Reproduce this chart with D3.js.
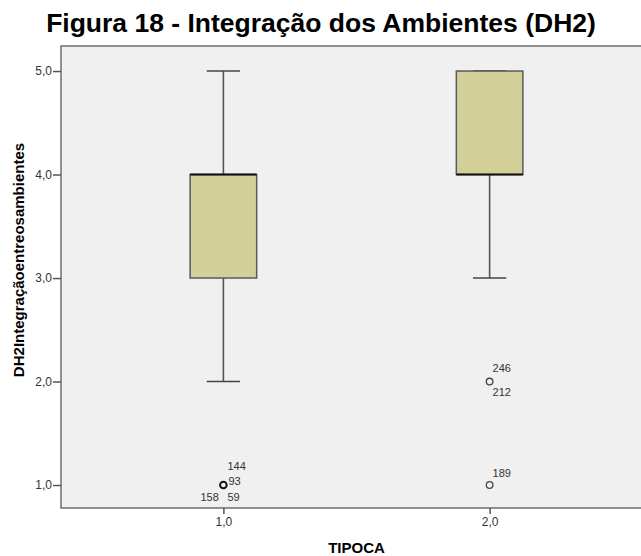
<!DOCTYPE html>
<html>
<head>
<meta charset="utf-8">
<script src="https://cdn.jsdelivr.net/npm/d3@7"></script>
<style>
  body { margin: 0; background: #fff; }
  svg { display: block; font-family: "Liberation Sans", Arial, sans-serif; }
</style>
</head>
<body>
<svg id="chart" width="641" height="556"></svg>
<script>
const groups = [1, 2];
const whiskerLow = [2, 3];
const q1 = [3, 4];
const median = [4, 4];
const q3 = [4, 5];
const whiskerHigh = [5, 5];
// outliers: group, value, case labels
const outliers = [
  { group: 1, value: 1, ids: ["144", "93", "158", "59"] },
  { group: 2, value: 2, ids: ["246", "212"] },
  { group: 2, value: 1, ids: ["189"] }
];
const yTicks = [1, 2, 3, 4, 5];
const xTicks = [1, 2];

const width = 641, height = 556;
const plot = { left: 61, top: 46, right: 652, bottom: 508 };

const svg = d3.select("#chart");
const fmt = d => d3.format(".1f")(d).replace(".", ",");

const x = d3.scaleLinear().domain([0.39, 2.61]).range([plot.left, plot.right]);
const y = d3.scaleLinear().domain([0.778, 5.242]).range([plot.bottom, plot.top]);
const boxW = x(1.25) - x(1);

svg.append("text")
  .attr("x", 321).attr("y", 32)
  .attr("text-anchor", "middle")
  .style("font-size", "26.5px")
  .style("font-weight", "bold")
  .style("fill", "#000")
  .text("Figura 18 - Integração dos Ambientes (DH2)");

svg.append("rect")
  .attr("x", plot.left).attr("y", plot.top)
  .attr("width", plot.right - plot.left).attr("height", plot.bottom - plot.top)
  .attr("fill", "#f0f0f0")
  .attr("stroke", "#6e6e6e")
  .attr("stroke-width", 1.5);

const yAxis = svg.append("g")
  .attr("transform", `translate(${plot.left},0)`)
  .call(d3.axisLeft(y).tickValues(yTicks).tickFormat(fmt).tickSize(8).tickPadding(1));
yAxis.select(".domain").remove();

const xAxis = svg.append("g")
  .attr("transform", `translate(0,${plot.bottom})`)
  .call(d3.axisBottom(x).tickValues(xTicks).tickFormat(fmt).tickSize(6).tickPadding(3));
xAxis.select(".domain").remove();

svg.selectAll(".tick line").attr("stroke", "#555").attr("stroke-width", 1.5);
svg.selectAll(".tick text")
  .style("font-size", "12px")
  .style("font-family", "Liberation Sans, Arial, sans-serif")
  .attr("fill", "#333");

svg.append("text")
  .attr("x", (plot.left + plot.right) / 2).attr("y", 553)
  .attr("text-anchor", "middle")
  .style("font-size", "15px").style("font-weight", "bold")
  .text("TIPOCA");

svg.append("text")
  .attr("transform", "translate(24,260) rotate(-90)")
  .attr("text-anchor", "middle")
  .style("font-size", "15px").style("font-weight", "bold")
  .text("DH2Integraçãoentreosambientes");

const boxes = svg.append("g").selectAll("g")
  .data(groups.map((g, i) => ({ g, lo: whiskerLow[i], q1: q1[i], med: median[i], q3: q3[i], hi: whiskerHigh[i] })))
  .join("g");

boxes.append("line")
  .attr("x1", d => x(d.g)).attr("x2", d => x(d.g))
  .attr("y1", d => y(d.lo)).attr("y2", d => y(d.hi))
  .attr("stroke", "#555").attr("stroke-width", 1.6);

boxes.selectAll(".cap")
  .data(d => [d.lo, d.hi].map(v => ({ g: d.g, v })))
  .join("line")
  .attr("x1", d => x(d.g) - boxW / 4).attr("x2", d => x(d.g) + boxW / 4)
  .attr("y1", d => y(d.v)).attr("y2", d => y(d.v))
  .attr("stroke", "#444").attr("stroke-width", 1.6);

boxes.append("rect")
  .attr("x", d => x(d.g) - boxW / 2)
  .attr("width", boxW)
  .attr("y", d => y(d.q3))
  .attr("height", d => y(d.q1) - y(d.q3))
  .attr("fill", "#d3cf98")
  .attr("stroke", "#5a5a5a")
  .attr("stroke-width", 1.5);

boxes.append("line")
  .attr("x1", d => x(d.g) - boxW / 2).attr("x2", d => x(d.g) + boxW / 2)
  .attr("y1", d => y(d.med)).attr("y2", d => y(d.med))
  .attr("stroke", "#111").attr("stroke-width", 2);

// outlier circles, darker when several cases overlap
svg.append("g").selectAll("circle")
  .data(outliers)
  .join("circle")
  .attr("cx", d => x(d.group)).attr("cy", d => y(d.value))
  .attr("r", 3.3)
  .attr("fill", "none")
  .attr("stroke", d => d.ids.length > 2 ? "#111" : "#444")
  .attr("stroke-width", d => d.ids.length > 2 ? 2 : 1.3);

// label offsets around each point (label layout)
const labelPos = [
  [[4, -19], [5, -4], [-23, 12], [4, 12]],
  [[3, -13], [3, 11]],
  [[3, -12]]
];
const labels = [];
outliers.forEach((o, i) => o.ids.forEach((id, j) => labels.push({ o, id, off: labelPos[i][j] })));

svg.append("g").selectAll("text")
  .data(labels)
  .join("text")
  .attr("x", d => x(d.o.group) + d.off[0])
  .attr("y", d => y(d.o.value) + d.off[1])
  .attr("dy", "0.35em")
  .style("font-size", "11px")
  .attr("fill", "#333")
  .text(d => d.id);
</script>
</body>
</html>
